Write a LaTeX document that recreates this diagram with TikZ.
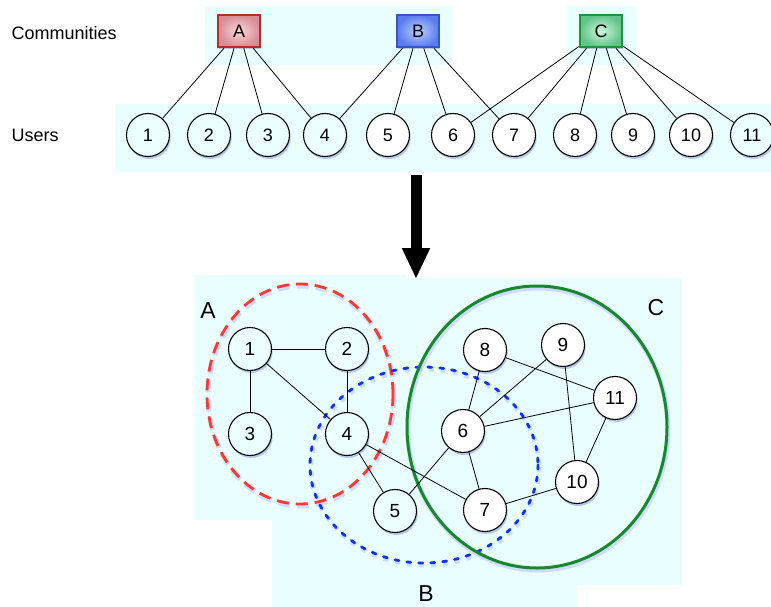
\documentclass[tikz,border=0pt]{standalone}
\usepackage{fontspec}
\setmainfont{Liberation Sans}
\usetikzlibrary{shadows,arrows.meta}
\definecolor{bg}{RGB}{233,255,255}
\definecolor{nodelt}{RGB}{236,255,255}
\definecolor{redB}{RGB}{186,44,40}
\definecolor{redIn}{RGB}{250,214,218}
\definecolor{redOut}{RGB}{216,140,148}
\definecolor{blueB}{RGB}{52,84,210}
\definecolor{blueIn}{RGB}{184,206,255}
\definecolor{blueOut}{RGB}{92,124,238}
\definecolor{greenB}{RGB}{24,150,60}
\definecolor{greenIn}{RGB}{206,246,224}
\definecolor{greenOut}{RGB}{96,196,136}
\definecolor{dashred}{RGB}{255,56,48}
\definecolor{dotblue}{RGB}{10,50,255}
\definecolor{ringgreen}{RGB}{24,136,44}
\begin{document}
\begin{tikzpicture}[x=1pt,y=-1pt,
  shade/.style={drop shadow={shadow xshift=1.2pt,shadow yshift=-2.5pt,fill=blue!60!black,opacity=0.22}},
  user/.style={circle,draw,line width=1.1pt,minimum size=43pt,inner sep=0pt,fill=white,
    font=\fontsize{18}{18}\selectfont,shade},
  userlt/.style={user,fill=nodelt},
  vtx/.style={user,font=\fontsize{19}{19}\selectfont},
  vtxlt/.style={vtx,fill=nodelt},
  comm/.style={rectangle,line width=2.6pt,minimum width=42pt,minimum height=32pt,inner sep=0pt,
    font=\fontsize{18}{18}\selectfont,shade},
  link/.style={line width=0.8pt},
  rowlabel/.style={anchor=west,font=\fontsize{18}{18}\selectfont},
  biglabel/.style={font=\fontsize{23}{23}\selectfont}
]
\useasboundingbox (0,0) rectangle (771,607);
% backgrounds
\fill[bg] (205,6) rectangle (452,65);
\fill[bg] (567,6) rectangle (636,65);
\fill[bg] (115,104) rectangle (771,172);
\fill[bg] (194,275) rectangle (406,520);
\fill[bg] (406,278) rectangle (682,585);
\fill[bg] (272,300) rectangle (577,607);

% row labels
\node[rowlabel] (lcomm) at (8,33) {Communities};
\node[rowlabel] (lusers) at (8,135) {Users};

% community boxes
\node[comm,draw=redB,inner color=redIn,outer color=redOut] (A) at (239,31) {A};
\node[comm,draw=blueB,inner color=blueIn,outer color=blueOut] (B) at (418,31) {B};
\node[comm,draw=greenB,inner color=greenIn,outer color=greenOut] (C) at (601,31) {C};

% users
\node[userlt] (u1) at (148,135) {1};
\node[userlt] (u2) at (209,135) {2};
\node[userlt] (u3) at (268,135) {3};
\node[userlt] (u4) at (325,135) {4};
\node[user] (u5) at (388,135) {5};
\node[user] (u6) at (453,135) {6};
\node[user] (u7) at (514,135) {7};
\node[user] (u8) at (575,135) {8};
\node[user] (u9) at (633,135) {9};
\node[user] (u10) at (691,135) {10};
\node[userlt] (u11) at (752,135) {11};

\foreach \u in {1,2,3,4} \draw[link] (A) -- (u\u);
\foreach \u in {4,5,6,7} \draw[link] (B) -- (u\u);
\foreach \u in {6,7,8,9,10,11} \draw[link] (C) -- (u\u);

% arrow
\coordinate (atop) at (416,175);
\coordinate (abot) at (416,279);
\draw[line width=11pt,-{Triangle[width=26pt,length=31pt]}] (atop) -- (abot);

% community ellipses (soft shadows then strokes)
\draw[blue!40!white,opacity=0.35,line width=5pt,dash pattern=on 12pt off 7pt] (301,396) ellipse [x radius=93,y radius=110];
\draw[blue!40!white,opacity=0.35,line width=5pt,dash pattern=on 5pt off 7pt] (425,467) ellipse [x radius=114,y radius=98];
\draw[blue!40!white,opacity=0.35,line width=5pt] (538,429) ellipse [x radius=130,y radius=141];
\draw[dashred,line width=2.8pt,dash pattern=on 12pt off 7pt] (300,394) ellipse [x radius=93,y radius=110];
\draw[dotblue,line width=2.8pt,dash pattern=on 4pt off 8pt,line cap=round] (424,465) ellipse [x radius=114,y radius=98];
\draw[ringgreen,line width=3pt] (537,427) ellipse [x radius=130,y radius=141];

% labels
\node[biglabel] (LA) at (208,311) {A};
\node[biglabel] (LC) at (656,308) {C};
\node[biglabel] (LB) at (426,594) {B};

% graph nodes
\node[vtxlt] (v1) at (250,349) {1};
\node[vtxlt] (v2) at (347,349) {2};
\node[vtxlt] (v3) at (250,434) {3};
\node[vtxlt] (v4) at (347,434) {4};
\node[vtxlt] (v5) at (395,511) {5};
\node[vtx] (v6) at (463,431) {6};
\node[vtx] (v7) at (485,510) {7};
\node[vtx] (v8) at (485,350) {8};
\node[vtx] (v9) at (563,345) {9};
\node[vtx] (v10) at (577,482) {10};
\node[vtx] (v11) at (615,398) {11};

\foreach \a/\b in {1/2,1/3,1/4,2/4,4/5,4/7,5/6,6/7,6/8,6/9,6/11,8/11,9/10,11/10,7/10}
  \draw[link] (v\a) -- (v\b);
\end{tikzpicture}
\end{document}
